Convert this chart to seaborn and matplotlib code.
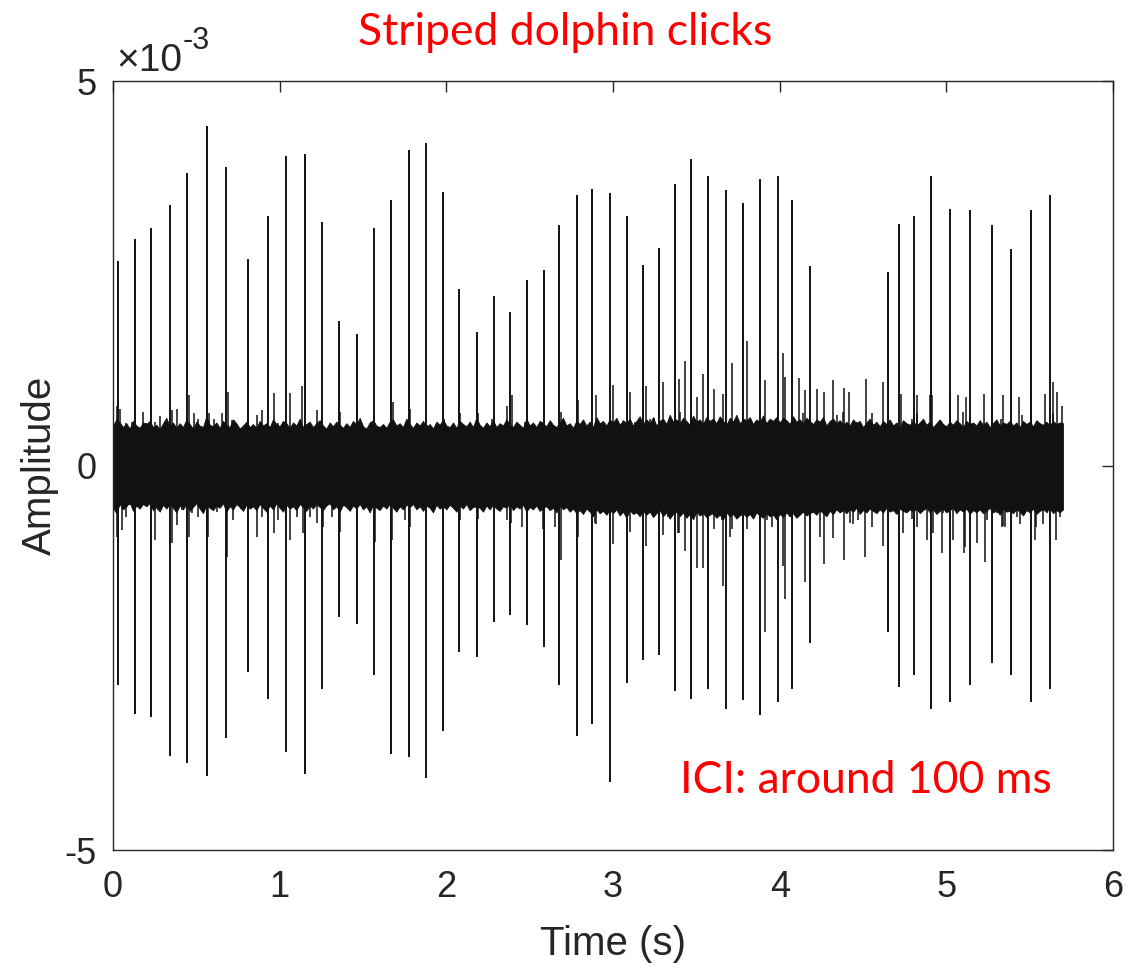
import numpy as np
import pandas as pd
import matplotlib
matplotlib.use("Agg")
import matplotlib.pyplot as plt
import seaborn as sns

# Amplitudes are in units of 1e-3 (see the axis multiplier), time in seconds.

# Main echolocation clicks: time, positive peak, negative peak
click_t = [0.028, 0.134, 0.228, 0.342, 0.446, 0.566, 0.680, 0.810, 0.932, 1.036,
           1.150, 1.252, 1.356, 1.466, 1.564, 1.670, 1.776, 1.880, 1.982, 2.078,
           2.182, 2.286, 2.384, 2.486, 2.584, 2.678, 2.784, 2.876, 2.982, 3.084,
           3.180, 3.276, 3.374, 3.468, 3.572, 3.676, 3.780, 3.884, 3.988, 4.076,
           4.180, 4.650, 4.718, 4.806, 4.910, 5.022, 5.144, 5.274, 5.386, 5.510,
           5.620]
click_pos = [2.66, 2.94, 3.09, 3.39, 3.81, 4.42, 3.88, 2.69, 3.24, 4.03,
             4.05, 3.17, 1.88, 1.71, 3.09, 3.45, 4.10, 4.20, 3.56, 2.29,
             1.74, 2.21, 2.00, 2.41, 2.54, 3.13, 3.52, 3.60, 3.54, 3.24,
             2.61, 2.83, 3.66, 3.98, 3.77, 3.58, 3.41, 3.73, 3.77, 3.45,
             2.60, 2.51, 3.14, 3.24, 3.77, 3.34, 3.32, 3.13, 2.81, 3.32,
             3.52]
click_neg = [-2.85, -3.23, -3.27, -3.78, -3.87, -4.04, -3.54, -2.68, -3.03, -3.72,
             -4.01, -2.90, -1.97, -2.06, -2.72, -3.75, -3.79, -4.07, -3.45, -2.43,
             -2.49, -2.04, -1.94, -2.08, -2.36, -2.85, -3.52, -3.36, -4.11, -2.83,
             -2.53, -2.46, -2.93, -3.04, -2.91, -3.16, -3.05, -3.24, -3.08, -2.90,
             -2.31, -2.17, -2.88, -2.72, -3.16, -3.08, -2.85, -2.57, -2.72, -3.08,
             -2.91]

# Smaller transients riding on the background noise (upward excursions)
up_t = [0.026, 0.042, 0.078, 0.112, 0.178, 0.198, 0.252, 0.282, 0.312, 0.352,
        0.382, 0.418, 0.458, 0.486, 0.512, 0.574, 0.606, 0.654, 0.692, 0.714,
        0.752, 0.862, 0.892, 0.966, 0.992, 1.062, 1.102, 1.132, 1.162, 1.222,
        1.262, 1.306, 1.362, 1.466, 1.678, 1.782, 1.882, 1.986, 2.082, 2.192,
        2.272, 2.362, 2.392, 2.472, 2.572, 2.686, 2.742, 2.792, 2.832, 2.896,
        2.902, 2.998, 3.022, 3.100, 3.132, 3.196, 3.222, 3.246, 3.302, 3.322,
        3.398, 3.402, 3.434, 3.502, 3.538, 3.552, 3.608, 3.662, 3.712, 3.742,
        3.792, 3.802, 3.912, 3.922, 4.018, 4.030, 4.052, 4.116, 4.142, 4.154,
        4.222, 4.262, 4.266, 4.322, 4.342, 4.382, 4.386, 4.418, 4.466, 4.516,
        4.552, 4.622, 4.726, 4.792, 4.822, 4.826, 4.902, 4.912, 4.992, 5.022,
        5.072, 5.102, 5.116, 5.162, 5.228, 5.272, 5.282, 5.326, 5.338, 5.436,
        5.452, 5.508, 5.522, 5.590, 5.638, 5.642, 5.662, 5.692]
up_v = [0.77, 0.73, 0.55, 0.57, 0.70, 0.55, 0.57, 0.64, 0.48, 0.72,
        0.74, 0.50, 0.92, 0.68, 0.61, 0.68, 0.61, 0.68, 0.96, 0.59,
        0.50, 0.66, 0.72, 0.94, 0.55, 0.94, 0.50, 1.03, 0.50, 0.72,
        0.48, 0.50, 0.70, 0.70, 0.83, 0.74, 0.53, 0.61, 0.68, 0.68,
        0.61, 0.77, 0.92, 0.57, 0.57, 0.70, 0.53, 0.85, 0.50, 0.92,
        0.55, 1.05, 0.50, 0.95, 0.57, 1.04, 0.61, 0.62, 1.08, 0.50,
        1.12, 0.70, 1.36, 0.89, 1.19, 0.53, 0.99, 0.93, 1.33, 0.61,
        0.61, 1.62, 1.11, 0.55, 1.46, 1.15, 0.55, 1.14, 0.68, 0.98,
        0.99, 0.59, 0.95, 1.11, 0.66, 0.70, 1.01, 0.95, 0.57, 1.12,
        0.68, 1.09, 0.93, 0.61, 0.68, 0.92, 0.92, 0.92, 0.50, 0.89,
        0.92, 0.70, 0.89, 0.50, 0.93, 0.92, 0.55, 0.61, 0.92, 0.89,
        0.66, 0.92, 0.48, 0.93, 1.09, 0.68, 0.95, 0.78]

# Smaller transients riding on the background noise (downward excursions)
dn_t = [0.026, 0.052, 0.078, 0.102, 0.152, 0.172, 0.206, 0.252, 0.272, 0.312,
        0.352, 0.382, 0.412, 0.458, 0.472, 0.512, 0.572, 0.602, 0.626, 0.682,
        0.722, 0.766, 0.862, 0.892, 0.966, 0.992, 1.062, 1.102, 1.142, 1.182,
        1.222, 1.262, 1.312, 1.362, 1.466, 1.572, 1.672, 1.752, 1.782, 1.882,
        1.982, 2.082, 2.192, 2.242, 2.362, 2.386, 2.452, 2.582, 2.652, 2.686,
        2.792, 2.822, 2.892, 2.896, 2.952, 2.998, 3.022, 3.062, 3.100, 3.162,
        3.196, 3.212, 3.302, 3.332, 3.342, 3.392, 3.398, 3.434, 3.502, 3.522,
        3.538, 3.608, 3.652, 3.662, 3.702, 3.712, 3.802, 3.812, 3.912, 3.922,
        3.952, 4.018, 4.030, 4.062, 4.142, 4.154, 4.242, 4.268, 4.322, 4.386,
        4.392, 4.422, 4.438, 4.472, 4.512, 4.552, 4.622, 4.702, 4.742, 4.762,
        4.792, 4.826, 4.882, 4.922, 4.972, 4.982, 5.038, 5.052, 5.108, 5.112,
        5.182, 5.232, 5.242, 5.302, 5.332, 5.342, 5.352, 5.422, 5.442, 5.462,
        5.532, 5.538, 5.582, 5.602, 5.658, 5.682]
dn_v = [-0.93, -0.84, -0.67, -0.51, -0.54, -0.49, -0.45, -0.97, -0.58, -0.54,
        -1.01, -0.77, -0.58, -0.93, -0.62, -0.67, -0.93, -0.58, -0.60, -1.19,
        -0.71, -0.56, -0.93, -0.67, -0.88, -0.71, -0.97, -0.67, -0.88, -0.67,
        -0.75, -0.80, -0.67, -0.86, -0.58, -0.99, -0.97, -0.71, -0.80, -0.49,
        -0.58, -0.71, -0.69, -0.54, -0.71, -0.75, -0.80, -0.82, -0.80, -1.23,
        -0.93, -0.62, -0.75, -0.76, -0.49, -1.02, -0.56, -0.49, -0.87, -0.62,
        -1.05, -0.54, -0.91, -0.67, -0.70, -0.88, -0.88, -1.11, -1.33, -0.62,
        -1.33, -0.82, -0.71, -1.57, -0.93, -0.82, -0.82, -0.62, -2.16, -0.71,
        -0.80, -1.31, -1.74, -0.67, -0.62, -1.51, -0.93, -1.28, -0.94, -1.23,
        -0.54, -0.75, -0.76, -0.71, -1.19, -0.80, -1.05, -0.62, -0.88, -0.54,
        -0.70, -0.80, -0.97, -0.88, -1.14, -0.62, -0.97, -0.58, -1.14, -1.06,
        -1.01, -1.25, -0.71, -0.62, -0.80, -0.79, -0.80, -0.67, -0.76, -0.62,
        -0.97, -0.80, -0.76, -0.62, -0.97, -0.67]

# Envelope of the dense background noise, one value every 20 ms from 0 to 5.70 s
band_hi = [0.52, 0.60, 0.56, 0.50, 0.55, 0.48, 0.58, 0.52, 0.49, 0.56,
           0.54, 0.58, 0.50, 0.53, 0.47, 0.55, 0.62, 0.51, 0.56, 0.49,
           0.55, 0.50, 0.60, 0.54, 0.48, 0.57, 0.52, 0.50, 0.64, 0.53,
           0.51, 0.56, 0.49, 0.58, 0.53, 0.50, 0.60, 0.55, 0.48, 0.52,
           0.57, 0.50, 0.54, 0.49, 0.58, 0.52, 0.55, 0.50, 0.60, 0.54,
           0.51, 0.58, 0.55, 0.49, 0.56, 0.52, 0.61, 0.50, 0.54, 0.57,
           0.50, 0.55, 0.59, 0.52, 0.48, 0.56, 0.51, 0.57, 0.53, 0.49,
           0.55, 0.50, 0.58, 0.53, 0.62, 0.51, 0.48, 0.56, 0.59, 0.52,
           0.50, 0.54, 0.49, 0.57, 0.60, 0.52, 0.55, 0.50, 0.61, 0.54,
           0.49, 0.56, 0.52, 0.58, 0.50, 0.54, 0.48, 0.57, 0.53, 0.60,
           0.52, 0.50, 0.56, 0.49, 0.58, 0.54, 0.51, 0.57, 0.50, 0.62,
           0.53, 0.49, 0.56, 0.51, 0.59, 0.50, 0.55, 0.52, 0.60, 0.54,
           0.50, 0.57, 0.53, 0.49, 0.61, 0.52, 0.56, 0.50, 0.58, 0.55,
           0.51, 0.59, 0.53, 0.50, 0.56, 0.62, 0.52, 0.55, 0.49, 0.58,
           0.54, 0.60, 0.52, 0.57, 0.50, 0.63, 0.55, 0.58, 0.52, 0.60,
           0.56, 0.62, 0.53, 0.59, 0.55, 0.61, 0.52, 0.58, 0.64, 0.54,
           0.60, 0.55, 0.63, 0.52, 0.58, 0.61, 0.54, 0.66, 0.57, 0.60,
           0.55, 0.62, 0.58, 0.53, 0.65, 0.57, 0.60, 0.54, 0.63, 0.58,
           0.61, 0.55, 0.64, 0.58, 0.53, 0.62, 0.57, 0.66, 0.55, 0.60,
           0.58, 0.63, 0.54, 0.60, 0.57, 0.65, 0.55, 0.61, 0.58, 0.63,
           0.56, 0.62, 0.59, 0.54, 0.64, 0.57, 0.60, 0.55, 0.62, 0.58,
           0.54, 0.60, 0.57, 0.63, 0.52, 0.58, 0.61, 0.55, 0.59, 0.53,
           0.57, 0.52, 0.60, 0.55, 0.58, 0.50, 0.56, 0.61, 0.53, 0.57,
           0.51, 0.58, 0.54, 0.60, 0.52, 0.56, 0.50, 0.59, 0.55, 0.53,
           0.58, 0.52, 0.56, 0.61, 0.53, 0.57, 0.50, 0.55, 0.60, 0.54,
           0.51, 0.57, 0.53, 0.59, 0.55, 0.50, 0.58, 0.54, 0.56, 0.52,
           0.59, 0.53, 0.57, 0.50, 0.55, 0.60, 0.52, 0.56, 0.54, 0.58,
           0.52, 0.56, 0.50, 0.58, 0.54, 0.57, 0.51, 0.59, 0.55, 0.53,
           0.57, 0.52, 0.58, 0.54, 0.56, 0.55]
band_lo = [-0.55, -0.62, -0.50, -0.57, -0.53, -0.48, -0.59, -0.52, -0.56, -0.50,
           -0.53, -0.49, -0.58, -0.54, -0.60, -0.51, -0.56, -0.50, -0.55, -0.61,
           -0.52, -0.57, -0.50, -0.59, -0.54, -0.49, -0.56, -0.62, -0.51, -0.55,
           -0.58, -0.52, -0.55, -0.49, -0.60, -0.53, -0.57, -0.50, -0.54, -0.59,
           -0.51, -0.56, -0.53, -0.58, -0.50, -0.55, -0.60, -0.52, -0.57, -0.49,
           -0.55, -0.60, -0.51, -0.56, -0.53, -0.58, -0.50, -0.54, -0.59, -0.52,
           -0.56, -0.50, -0.54, -0.58, -0.52, -0.49, -0.57, -0.53, -0.60, -0.51,
           -0.54, -0.59, -0.52, -0.56, -0.50, -0.57, -0.53, -0.61, -0.51, -0.55,
           -0.58, -0.52, -0.56, -0.50, -0.55, -0.60, -0.53, -0.57, -0.51, -0.54,
           -0.50, -0.57, -0.53, -0.59, -0.52, -0.55, -0.61, -0.51, -0.56, -0.53,
           -0.57, -0.51, -0.55, -0.60, -0.52, -0.56, -0.50, -0.58, -0.54, -0.53,
           -0.55, -0.60, -0.52, -0.57, -0.51, -0.56, -0.59, -0.53, -0.55, -0.50,
           -0.58, -0.53, -0.56, -0.51, -0.60, -0.54, -0.57, -0.52, -0.59, -0.55,
           -0.53, -0.58, -0.55, -0.61, -0.52, -0.57, -0.54, -0.60, -0.56, -0.62,
           -0.58, -0.63, -0.56, -0.60, -0.66, -0.57, -0.62, -0.59, -0.64, -0.58,
           -0.62, -0.57, -0.65, -0.60, -0.68, -0.58, -0.63, -0.61, -0.66, -0.59,
           -0.64, -0.60, -0.67, -0.62, -0.58, -0.66, -0.61, -0.69, -0.63, -0.60,
           -0.66, -0.61, -0.68, -0.63, -0.70, -0.60, -0.65, -0.62, -0.67, -0.64,
           -0.62, -0.68, -0.64, -0.70, -0.61, -0.66, -0.63, -0.69, -0.65, -0.62,
           -0.67, -0.63, -0.69, -0.61, -0.65, -0.68, -0.62, -0.66, -0.64, -0.70,
           -0.63, -0.67, -0.61, -0.66, -0.62, -0.68, -0.64, -0.60, -0.65, -0.62,
           -0.60, -0.64, -0.58, -0.62, -0.66, -0.59, -0.63, -0.57, -0.61, -0.58,
           -0.62, -0.57, -0.60, -0.55, -0.63, -0.58, -0.61, -0.56, -0.59, -0.62,
           -0.57, -0.61, -0.55, -0.60, -0.58, -0.63, -0.56, -0.59, -0.61, -0.57,
           -0.60, -0.56, -0.62, -0.58, -0.55, -0.61, -0.57, -0.63, -0.59, -0.56,
           -0.61, -0.58, -0.55, -0.62, -0.57, -0.60, -0.56, -0.63, -0.58, -0.61,
           -0.57, -0.62, -0.59, -0.55, -0.61, -0.58, -0.64, -0.56, -0.60, -0.59,
           -0.62, -0.57, -0.60, -0.65, -0.58, -0.61, -0.56, -0.63, -0.59, -0.57,
           -0.60, -0.56, -0.62, -0.58, -0.61, -0.57]
band_step = 0.02

x_ticks = [0, 1, 2, 3, 4, 5, 6]
y_ticks = [-5, 0, 5]

sns.set_style("white")
plt.rcParams["font.family"] = ["Liberation Sans", "DejaVu Sans"]

axis_grey = "#262626"
ink = "#111111"
note_red = "#ff0000"

fig = plt.figure(figsize=(11.30, 9.68), dpi=100)
ax = fig.add_axes([0.1, 0.1219, 0.885, 0.7944])

# Background noise band (sample grid of the envelope lists)
band = pd.DataFrame({"hi": band_hi, "lo": band_lo})
band["t"] = np.round(np.arange(len(band)) * band_step, 3)
ax.fill_between(band["t"], band["lo"], band["hi"], color=ink, linewidth=0.6,
                edgecolor=ink)

ax.vlines(up_t, 0, up_v, color=ink, linewidth=1.1)
ax.vlines(dn_t, dn_v, 0, color=ink, linewidth=1.1)
ax.vlines(click_t, click_neg, click_pos, color=ink, linewidth=1.4)

ax.set_xlim(0, 6)
ax.set_ylim(-5, 5)
ax.set_xticks(x_ticks)
ax.set_yticks(y_ticks)
ax.set_xticklabels([str(v) for v in x_ticks])
ax.set_yticklabels([str(v) for v in y_ticks])

ax.tick_params(axis="both", which="both", direction="in", length=8, width=1.0,
               colors=axis_grey, labelsize=26, top=True, right=True)
ax.tick_params(axis="x", pad=14.5)
ax.tick_params(axis="y", pad=12)
for side in ["left", "right", "top", "bottom"]:
    ax.spines[side].set_visible(True)
    ax.spines[side].set_color(axis_grey)
    ax.spines[side].set_linewidth(1.0)

ax.set_xlabel("Time (s)", fontsize=29, color=axis_grey, labelpad=14)
ax.set_ylabel("Amplitude", fontsize=29, color=axis_grey, labelpad=4)

# Axis multiplier, written as base plus a raised exponent
base = fig.text(0.103, 0.927, "×10", fontsize=28, color=axis_grey,
                ha="left", va="baseline")
fig.canvas.draw()
ax.annotate("-3", xy=(1.0, 0.62), xycoords=base, fontsize=22,
            color=axis_grey, ha="left", va="bottom")

fig.text(0.5, 0.966, "Striped dolphin clicks", fontsize=32, color=note_red,
         ha="center", va="center", family=["Lato", "DejaVu Sans"])
fig.text(0.766, 0.194, "ICI: around 100 ms", fontsize=32, color=note_red,
         ha="center", va="center", family=["Lato", "DejaVu Sans"])

fig.savefig("out.png", dpi=100)
